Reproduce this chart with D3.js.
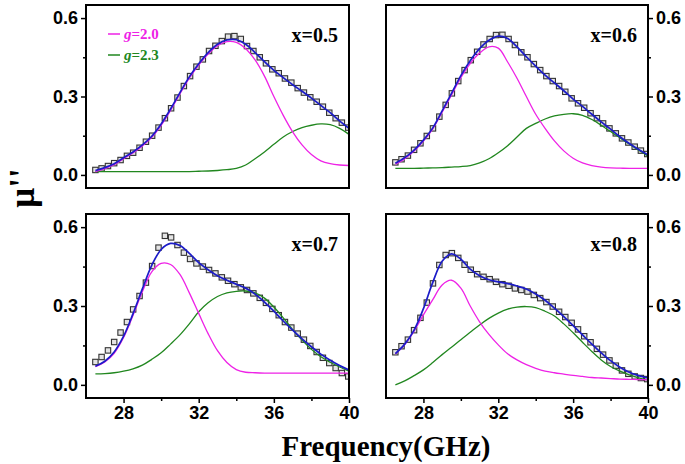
<!DOCTYPE html>
<html>
<head>
<meta charset="utf-8">
<script src="https://cdn.jsdelivr.net/npm/d3@7"></script>
<style>
html, body { margin: 0; padding: 0; background: #fff; }
svg { display: block; }
</style>
</head>
<body>
<svg id="chart" width="685" height="464"></svg>
<script>
// ---------- data ----------
const panelLabels = ["x=0.5", "x=0.6", "x=0.7", "x=0.8"];
const legendLabels = ["2.0", "2.3"];
const xTicks = [28, 32, 36, 40];
const xMinorTicks = [30, 34, 38];
const yTicks = [0.0, 0.3, 0.6];
const yMinorTicks = [0.15, 0.45];

// frequency grid for fitted curves (GHz)
const fitFreq = [26.5, 27, 27.5, 28, 28.5, 29, 29.5, 30, 30.5, 31, 31.5, 32, 32.5, 33, 33.5,
                 34, 34.5, 35, 35.5, 36, 36.5, 37, 37.5, 38, 38.5, 39, 39.5, 40];
// measured points frequency (GHz)
const dataFreq = [26.5, 26.83, 27.17, 27.5, 27.84, 28.18, 28.51, 28.85, 29.19, 29.52, 29.86,
                  30.2, 30.53, 30.87, 31.21, 31.54, 31.88, 32.22, 32.55, 32.89, 33.23, 33.56,
                  33.9, 34.24, 34.57, 34.91, 35.25, 35.58, 35.92, 36.26, 36.59, 36.93, 37.27,
                  37.6, 37.94, 38.28, 38.61, 38.95, 39.29, 39.62, 39.96];

// x = 0.5
const data05 = [0.019,0.025,0.034,0.045,0.057,0.073,0.085,0.104,0.127,0.150,0.181,0.217,0.255,0.296,0.340,0.378,0.414,0.442,0.474,0.494,0.512,0.529,0.531,0.520,0.493,0.474,0.450,0.427,0.404,0.389,0.369,0.353,0.332,0.315,0.297,0.280,0.261,0.238,0.217,0.200,0.181];
const fit05   = [0.017,0.028,0.043,0.066,0.088,0.115,0.148,0.195,0.252,0.315,0.375,0.425,0.468,0.500,0.516,0.517,0.500,0.468,0.433,0.400,0.372,0.345,0.320,0.294,0.266,0.238,0.207,0.178];
const g20_05  = [0.013,0.024,0.039,0.062,0.084,0.111,0.144,0.190,0.247,0.310,0.370,0.420,0.462,0.494,0.510,0.507,0.483,0.440,0.378,0.300,0.228,0.165,0.115,0.078,0.054,0.043,0.038,0.036];
const g23_05  = [0.013,0.013,0.013,0.013,0.013,0.013,0.013,0.013,0.013,0.013,0.013,0.014,0.015,0.017,0.020,0.025,0.038,0.062,0.088,0.117,0.145,0.166,0.181,0.190,0.195,0.192,0.178,0.155];

// x = 0.6
const data06 = [0.048,0.060,0.074,0.096,0.121,0.149,0.178,0.223,0.268,0.312,0.359,0.401,0.439,0.471,0.499,0.520,0.535,0.536,0.520,0.497,0.469,0.450,0.424,0.401,0.378,0.359,0.340,0.318,0.293,0.274,0.257,0.236,0.217,0.197,0.178,0.159,0.140,0.124,0.108,0.093,0.080];
const fit06   = [0.045,0.066,0.095,0.133,0.180,0.245,0.312,0.380,0.437,0.483,0.515,0.531,0.522,0.490,0.452,0.416,0.382,0.352,0.322,0.290,0.262,0.232,0.203,0.175,0.146,0.120,0.097,0.076];
const g20_06  = [0.041,0.062,0.091,0.129,0.176,0.240,0.306,0.372,0.426,0.466,0.490,0.485,0.432,0.370,0.300,0.232,0.178,0.130,0.092,0.064,0.046,0.036,0.030,0.027,0.026,0.025,0.025,0.025];
const g23_06  = [0.025,0.025,0.025,0.026,0.027,0.028,0.030,0.032,0.036,0.046,0.062,0.085,0.112,0.145,0.178,0.197,0.214,0.226,0.232,0.234,0.228,0.212,0.190,0.166,0.142,0.118,0.095,0.072];

// x = 0.7
const data07 = [0.087,0.106,0.131,0.163,0.199,0.239,0.287,0.338,0.389,0.452,0.522,0.567,0.561,0.532,0.503,0.479,0.462,0.450,0.437,0.424,0.409,0.396,0.383,0.371,0.361,0.348,0.331,0.312,0.289,0.265,0.239,0.218,0.195,0.172,0.148,0.125,0.103,0.083,0.064,0.045,0.032];
const fit07   = [0.071,0.090,0.125,0.185,0.270,0.365,0.455,0.515,0.538,0.530,0.500,0.465,0.438,0.415,0.398,0.383,0.368,0.345,0.315,0.280,0.243,0.208,0.175,0.145,0.117,0.094,0.074,0.057];
const g20_07  = [0.069,0.087,0.120,0.180,0.264,0.354,0.430,0.462,0.458,0.420,0.350,0.272,0.195,0.130,0.085,0.058,0.048,0.046,0.045,0.045,0.045,0.045,0.045,0.045,0.045,0.045,0.045,0.045];
const g23_07  = [0.042,0.043,0.046,0.052,0.061,0.075,0.097,0.122,0.155,0.190,0.232,0.278,0.312,0.336,0.350,0.356,0.357,0.350,0.330,0.296,0.255,0.210,0.170,0.135,0.107,0.086,0.068,0.052];

// x = 0.8
const data08 = [0.124,0.147,0.172,0.208,0.255,0.313,0.386,0.456,0.494,0.501,0.483,0.457,0.438,0.421,0.411,0.402,0.392,0.383,0.377,0.367,0.361,0.355,0.342,0.330,0.315,0.298,0.278,0.258,0.236,0.211,0.185,0.162,0.137,0.115,0.093,0.073,0.055,0.042,0.032,0.026,0.022];
const fit08   = [0.119,0.155,0.208,0.290,0.390,0.470,0.498,0.478,0.440,0.415,0.400,0.392,0.385,0.376,0.365,0.346,0.322,0.292,0.260,0.225,0.190,0.155,0.122,0.092,0.067,0.048,0.035,0.026];
const g20_08  = [0.117,0.153,0.204,0.266,0.324,0.380,0.398,0.368,0.300,0.240,0.192,0.152,0.118,0.095,0.077,0.063,0.052,0.046,0.041,0.036,0.032,0.028,0.026,0.024,0.022,0.021,0.020,0.019];
const g23_08  = [0.000,0.015,0.035,0.057,0.085,0.115,0.143,0.172,0.200,0.228,0.253,0.273,0.288,0.296,0.298,0.294,0.280,0.262,0.232,0.198,0.162,0.127,0.095,0.070,0.052,0.038,0.027,0.019];

const measured = [data05, data06, data07, data08];
const fits = [fit05, fit06, fit07, fit08];
const comp20 = [g20_05, g20_06, g20_07, g20_08];
const comp23 = [g23_05, g23_06, g23_07, g23_08];

// ---------- layout ----------
const colors = { fit: "#1c1cc8", g20: "#ee22e6", g23: "#21871f", sq: "#333" };
const cols = [[86, 349], [386, 648]];
const rows = [[5, 188], [214, 398]];
const sans = "'Liberation Sans', Arial, sans-serif";
const serif = "'Liberation Serif', 'Times New Roman', serif";

const svg = d3.select("#chart");

panelLabels.forEach((label, i) => {
  const c = i % 2, r = Math.floor(i / 2);
  const [xl, xr] = cols[c];
  const [yt, yb] = rows[r];
  const x = d3.scaleLinear().domain([26, 40]).range([xl, xr]);
  const y = d3.scaleLinear().domain([-0.05, 0.65]).range([yb, yt]);
  const g = svg.append("g");

  const clipId = "clip" + i;
  svg.append("clipPath").attr("id", clipId)
    .append("rect").attr("x", xl).attr("y", yt).attr("width", xr - xl).attr("height", yb - yt);

  const plot = g.append("g").attr("clip-path", `url(#${clipId})`);

  // measured squares
  plot.selectAll("rect.sq").data(dataFreq.map((f, k) => [f, measured[i][k]]))
    .enter().append("rect")
    .attr("x", d => x(d[0]) - 2.7).attr("y", d => y(d[1]) - 2.7)
    .attr("width", 5.4).attr("height", 5.4)
    .attr("fill", "#e4e4e4").attr("stroke", colors.sq).attr("stroke-width", 1.1);

  const line = d3.line().x(d => x(d[0])).y(d => y(d[1])).curve(d3.curveCatmullRom.alpha(0.5));
  const mk = arr => fitFreq.map((f, k) => [f, arr[k]]);

  plot.append("path").attr("d", line(mk(comp23[i]))).attr("fill", "none")
    .attr("stroke", colors.g23).attr("stroke-width", 1.3);
  plot.append("path").attr("d", line(mk(comp20[i]))).attr("fill", "none")
    .attr("stroke", colors.g20).attr("stroke-width", 1.3);
  plot.append("path").attr("d", line(mk(fits[i]))).attr("fill", "none")
    .attr("stroke", colors.fit).attr("stroke-width", 1.7);

  // frame
  g.append("rect").attr("x", xl).attr("y", yt).attr("width", xr - xl).attr("height", yb - yt)
    .attr("fill", "none").attr("stroke", "#000").attr("stroke-width", 2);

  // y axis
  const yAxisG = g.append("g").attr("transform", `translate(${c === 0 ? xl : xr},0)`);
  const yAx = (c === 0 ? d3.axisLeft(y) : d3.axisRight(y))
    .tickValues(yTicks).tickFormat(d3.format(".1f")).tickSize(5).tickPadding(3);
  yAxisG.call(yAx);
  const yMin = (c === 0 ? d3.axisLeft(y) : d3.axisRight(y))
    .tickValues(yMinorTicks).tickFormat("").tickSize(3);
  g.append("g").attr("transform", `translate(${c === 0 ? xl : xr},0)`).call(yMin)
    .select(".domain").remove();
  yAxisG.select(".domain").remove();

  // x axis (bottom row only)
  if (r === 1) {
    const xAxisG = g.append("g").attr("transform", `translate(0,${yb})`)
      .call(d3.axisBottom(x).tickValues(xTicks).tickFormat(d3.format("d")).tickSize(5).tickPadding(3));
    xAxisG.select(".domain").remove();
    g.append("g").attr("transform", `translate(0,${yb})`)
      .call(d3.axisBottom(x).tickValues(xMinorTicks).tickFormat("").tickSize(3))
      .select(".domain").remove();
  }

  g.selectAll(".tick line").attr("stroke", "#000").attr("stroke-width", 1.5);
  g.selectAll(".tick text").attr("font-family", sans).attr("font-weight", "bold")
    .attr("font-size", 18).attr("fill", "#000");

  // panel label
  g.append("text").attr("x", xr - 11).attr("y", yt + 37)
    .attr("text-anchor", "end").attr("font-family", serif).attr("font-weight", "bold")
    .attr("font-size", 20).attr("fill", "#000").text(label);

  // legend in first panel
  if (i === 0) {
    const legColors = [colors.g20, colors.g23];
    legendLabels.forEach((lv, k) => {
      const ly = 34 + k * 21;
      g.append("line").attr("x1", 108).attr("x2", 120).attr("y1", ly).attr("y2", ly)
        .attr("stroke", legColors[k]).attr("stroke-width", 1.5);
      const t = g.append("text").attr("x", 124).attr("y", ly + 4.5)
        .attr("font-family", serif).attr("font-weight", "bold").attr("font-size", 15)
        .attr("fill", legColors[k]);
      t.append("tspan").attr("font-style", "italic").text("g");
      t.append("tspan").text("=" + lv);
    });
  }
});

// axis titles
svg.append("text").attr("x", 386).attr("y", 456).attr("text-anchor", "middle")
  .attr("font-family", serif).attr("font-weight", "bold").attr("font-size", 29)
  .attr("fill", "#000").text("Frequency(GHz)");

svg.append("text").attr("transform", "translate(34,188) rotate(-90)")
  .attr("text-anchor", "middle").attr("font-family", serif).attr("font-weight", "bold")
  .attr("font-size", 35).attr("fill", "#000").text("μ''");
</script>
</body>
</html>
